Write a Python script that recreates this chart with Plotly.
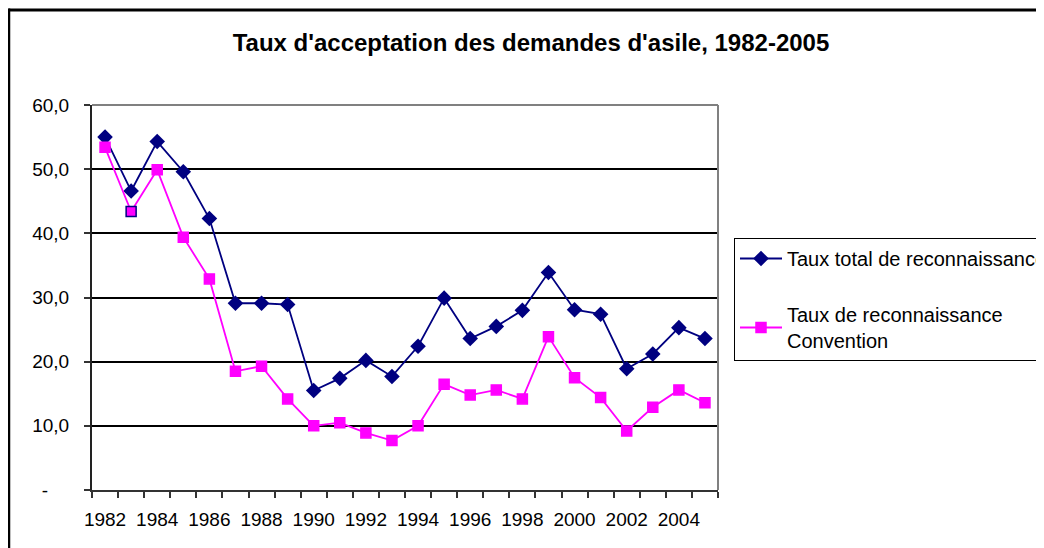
import plotly.graph_objects as go

years = list(range(1982, 2006))
taux_total = [55.0, 46.6, 54.3, 49.6, 42.3, 29.1, 29.1, 28.9, 15.5, 17.4, 20.2, 17.7,
              22.4, 29.9, 23.6, 25.5, 28.0, 33.9, 28.1, 27.4, 18.9, 21.2, 25.3, 23.6]
taux_convention = [53.4, 43.4, 49.9, 39.4, 32.9, 18.5, 19.3, 14.2, 10.0, 10.5, 8.9, 7.7,
                   10.0, 16.5, 14.8, 15.6, 14.2, 23.9, 17.5, 14.4, 9.2, 12.9, 15.6, 13.6]
y_tickvals = [0, 10, 20, 30, 40, 50, 60]
y_ticktext = ["-\u00a0\u00a0\u00a0\u00a0", "10,0", "20,0", "30,0", "40,0", "50,0", "60,0"]
x_label_years = list(range(1982, 2006, 2))

FONT = "Liberation Sans, Arial, sans-serif"
NAVY = "#000080"
MAGENTA = "#FF00FF"

conv_line_colors = [MAGENTA] * len(years)
conv_line_colors[1] = NAVY

fig = go.Figure()
fig.add_trace(go.Scatter(
    x=years, y=taux_total, name="Taux total de reconnaissance",
    mode="lines+markers", legendgroup="a",
    line=dict(color=NAVY, width=1.8),
    marker=dict(symbol="diamond", size=12, color=NAVY),
))
fig.add_trace(go.Scatter(
    x=years, y=taux_convention, name="Taux de reconnaissance<br>Convention",
    mode="lines+markers", legendgroup="b",
    line=dict(color=MAGENTA, width=1.8),
    marker=dict(symbol="square", size=10, color=MAGENTA,
                line=dict(color=conv_line_colors, width=1.5)),
))

# page body has an 8px margin; figure coordinates = screen - 8
OFF = 8
W, H = 1044 - OFF, 548 - OFF
L, R, T, B = 92 - OFF, 718 - OFF, 105 - OFF, 490 - OFF
pw, ph = R - L, B - T

def px_x(p):
    return (p - OFF - L) / pw

def px_y(p):
    return (B - (p - OFF)) / ph

fig.update_layout(
    width=W, height=H,
    margin=dict(l=L, r=W - R, t=T, b=H - B, autoexpand=False),
    paper_bgcolor="white", plot_bgcolor="white",
    font=dict(family=FONT, size=19, color="black"),
    showlegend=True,
    title=dict(text="<b>Taux d'acceptation des demandes d'asile, 1982-2005</b>",
               font=dict(family=FONT, size=24, color="black"),
               x=(531 - OFF) / W, xanchor="center", xref="container",
               y=1 - (43 - OFF) / H, yanchor="middle", yref="container"),
    legend=dict(x=px_x(734), y=px_y(238), xanchor="left", yanchor="top",
                bordercolor="black", borderwidth=1, bgcolor="white",
                font=dict(family=FONT, size=20, color="black"),
                tracegroupgap=27, traceorder="grouped", itemwidth=42),
    xaxis=dict(
        range=[1981.5, 2005.5], tickmode="array", tickvals=x_label_years,
        ticktext=[str(y) for y in x_label_years],
        ticks="outside", ticklen=0, ticklabelstandoff=11,
        showgrid=False, zeroline=False,
        showline=True, linecolor="#333333", linewidth=2,
        minor=dict(tickmode="array", tickvals=[y - 0.5 for y in years] + [2005.5],
                   ticks="outside", ticklen=6, tickcolor="#333333", tickwidth=1.5,
                   showgrid=False),
        fixedrange=True,
    ),
    yaxis=dict(
        range=[0, 60], tickmode="array", tickvals=y_tickvals, ticktext=y_ticktext,
        ticks="outside", ticklen=6, tickcolor="#333333", tickwidth=1.5,
        ticklabelstandoff=11,
        showgrid=True, gridcolor="black", gridwidth=1.5, zeroline=False,
        showline=True, linecolor="#222222", linewidth=2,
        fixedrange=True,
    ),
    shapes=[
        dict(type="line", xref="paper", yref="paper", x0=0, x1=1, y0=1, y1=1,
             line=dict(color="#808080", width=2), layer="above"),
        dict(type="line", xref="paper", yref="paper", x0=1, x1=1, y0=0, y1=1,
             line=dict(color="#808080", width=2), layer="above"),
        dict(type="line", xref="paper", yref="paper",
             x0=px_x(8.5), x1=px_x(1200), y0=px_y(10), y1=px_y(10),
             line=dict(color="black", width=3), layer="below"),
        dict(type="line", xref="paper", yref="paper",
             x0=px_x(9), x1=px_x(9), y0=px_y(8.5), y1=px_y(700),
             line=dict(color="black", width=2.5), layer="below"),
    ],
)

fig.write_html("out.html")
